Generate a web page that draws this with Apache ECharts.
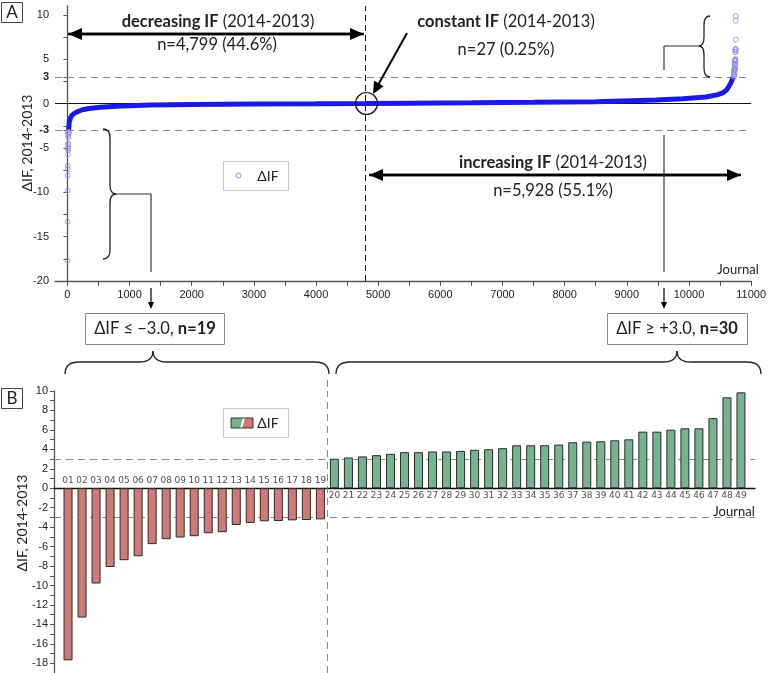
<!DOCTYPE html>
<html><head><meta charset="utf-8">
<script src="https://cdn.jsdelivr.net/npm/echarts@6/dist/echarts.min.js"></script>
<style>html,body{margin:0;padding:0;background:#fff}#c{width:769px;height:673px}</style>
</head><body><div id="c"></div>
<script>
// ---------------- DATA ----------------
const totalJournals = 10754;
const nDecreasing = 4799;
// sorted ΔIF curve (rank -> value) (journals with |ΔIF| < 3)
const curveRank  = [20, 30, 50, 75, 110, 155, 210, 260, 350, 527, 794, 1326, 2000, 3000, 4000, 4799, 4826, 5500, 6500, 7500, 8500, 9473, 9900, 10272, 10450, 10543, 10600, 10639, 10680, 10703, 10724];
const curveValue = [-3.0, -2.05, -1.6, -1.3, -1.1, -0.93, -0.78, -0.66, -0.55, -0.42, -0.3, -0.17, -0.11, -0.06, -0.03, 0, 0, 0.04, 0.08, 0.14, 0.22, 0.4, 0.55, 0.75, 0.98, 1.2, 1.5, 1.88, 2.4, 2.86, 3.0];
// journals with ΔIF <= -3 (01-19) and >= +3 (20-49)
const journalLabels = ['01','02','03','04','05','06','07','08','09','10','11','12','13','14','15','16','17','18','19','20','21','22','23','24','25','26','27','28','29','30','31','32','33','34','35','36','37','38','39','40','41','42','43','44','45','46','47','48','49'];
const negValues = [-17.7, -13.3, -9.8, -8.1, -7.4, -7.0, -5.75, -5.24, -5.07, -4.93, -4.63, -4.52, -3.78, -3.57, -3.40, -3.37, -3.30, -3.27, -3.20];
const posValues = [3.03, 3.16, 3.27, 3.40, 3.54, 3.71, 3.71, 3.78, 3.78, 3.84, 3.95, 4.01, 4.12, 4.42, 4.42, 4.42, 4.49, 4.73, 4.80, 4.83, 4.93, 5.03, 5.82, 5.82, 6.02, 6.16, 6.16, 7.21, 9.35, 9.86];
// tick labels
const yTicksA = [-20, -15, -10, -5, -3, 0, 3, 5, 10];
const yMinorA = [-20, -17.5, -15, -12.5, -10, -7.5, -5, -3, -2.5, 0, 2.5, 3, 5, 7.5, 10];
const xTicksA = [0, 1000, 2000, 3000, 4000, 5000, 6000, 7000, 8000, 9000, 10000, 11000];
const xMinorA = [0, 500, 1000, 1500, 2000, 2500, 3000, 3500, 4000, 4500, 5000, 5500, 6000, 6500, 7000, 7500, 8000, 8500, 9000, 9500, 10000, 10500, 11000];
const yTicksB = [-18, -16, -14, -12, -10, -8, -6, -4, -2, 0, 2, 4, 6, 8, 10];
const yMinorB = [-19, -18, -17, -16, -15, -14, -13, -12, -11, -10, -9, -8, -7, -6, -5, -4, -3, -2, -1, 0, 1, 2, 3, 4, 5, 6, 7, 8, 9, 10];

// ---------------- STYLE ----------------
const tickFont = "'Liberation Sans Narrow','Liberation Sans',Arial,sans-serif";
const textFont = "Lato,'Open Sans',sans-serif";
const RED = '#cd7b78', GREEN = '#79b28f';

const curveData = curveRank.map((r, i) => [r, curveValue[i]]);
const tailData = negValues.map((v, i) => [i + 1, v])
  .concat(posValues.map((v, i) => [totalJournals - posValues.length + i + 1, v]));
const barData = negValues.map((v, i) => ({value: [i + 1, v], itemStyle: {color: RED}}))
  .concat(posValues.map((v, i) => ({value: [negValues.length + i + 1, v], itemStyle: {color: GREEN}})));
const negLabelPts = negValues.map((v, i) => ({value: [i + 1, 0], name: journalLabels[i]}));
const posLabelPts = posValues.map((v, i) => ({value: [negValues.length + i + 1, 0], name: journalLabels[negValues.length + i]}));

const dashGray = {color: '#8a8a8a', type: [7, 5], width: 1};

function arrow(x1, y1, x2, y2, lw, hl, hw) {
  const dx = x2 - x1, dy = y2 - y1, L = Math.sqrt(dx * dx + dy * dy);
  const ux = dx / L, uy = dy / L, px = -uy, py = ux;
  const bx = x2 - ux * hl, by = y2 - uy * hl;
  return [
    {type: 'line', shape: {x1: x1, y1: y1, x2: bx + ux, y2: by + uy}, style: {stroke: '#000', lineWidth: lw}, z: 100},
    {type: 'polygon', shape: {points: [[x2, y2], [bx + px * hw, by + py * hw], [bx - px * hw, by - py * hw]]}, style: {fill: '#000'}, z: 100}
  ];
}
function vline(x, y1, y2, c, w) { return {type: 'line', shape: {x1: x, y1: y1, x2: x, y2: y2}, style: {stroke: c || '#333', lineWidth: w || 1.2}, z: 100}; }
function hline(x1, x2, y, c, w) { return {type: 'line', shape: {x1: x1, y1: y, x2: x2, y2: y}, style: {stroke: c || '#333', lineWidth: w || 1.2}, z: 100}; }
// segments: ['L', x1,y1,x2,y2] or ['Q', x1,y1,cx,cy,x2,y2]
function shapePath(segs) {
  return segs.map(s => s[0] === 'L'
    ? {type: 'line', shape: {x1: s[1], y1: s[2], x2: s[3], y2: s[4]}, style: {stroke: '#222', lineWidth: 1.3}, z: 100}
    : {type: 'bezierCurve', shape: {x1: s[1], y1: s[2], cpx1: s[3], cpy1: s[4], x2: s[5], y2: s[6]}, style: {stroke: '#222', fill: null, lineWidth: 1.3}, z: 100});
}
// vertical brace: ends at xe, spine at xs, tip at xt; from y1 to y2, tip at ym
function vbrace(xe, xs, xt, y1, ym, y2) {
  const r = 9;
  return shapePath([
    ['Q', xe, y1, xs, y1, xs, y1 + r], ['L', xs, y1 + r, xs, ym - r], ['Q', xs, ym - r, xs, ym, xt, ym],
    ['Q', xt, ym, xs, ym, xs, ym + r], ['L', xs, ym + r, xs, y2 - r], ['Q', xs, y2 - r, xs, y2, xe, y2]
  ]);
}
// horizontal brace opening downward: from x1 to x2, tip at xm; tip y yt, spine ys, ends ye
function hbrace(x1, xm, x2, yt, ys, ye) {
  const r = 14;
  return shapePath([
    ['Q', x1, ye, x1, ys, x1 + r, ys], ['L', x1 + r, ys, xm - r, ys], ['Q', xm - r, ys, xm, ys, xm, yt],
    ['Q', xm, yt, xm, ys, xm + r, ys], ['L', xm + r, ys, x2 - r, ys], ['Q', x2 - r, ys, x2, ys, x2, ye]
  ]);
}
function label(x, y, txt, size, extra) {
  return Object.assign({type: 'text', x: x, y: y, z: 100, style: {text: txt, fontFamily: textFont, fontSize: size, fill: '#222', align: 'center', verticalAlign: 'middle',
    rich: {b: {fontWeight: 'bold', fontFamily: textFont, fontSize: size, fill: '#222'}, n: {fontFamily: textFont, fontSize: size, fill: '#222'}}}}, extra || {});
}

const F = 16.5;
const graphics = [].concat(
  // panel letters
  [{type: 'rect', shape: {x: 1.5, y: 2.5, width: 21, height: 20}, style: {stroke: '#444', fill: '#fff', lineWidth: 1}, z: 100},
   label(12, 13, 'A', 17),
   {type: 'rect', shape: {x: 1.5, y: 388.5, width: 21, height: 20}, style: {stroke: '#444', fill: '#fff', lineWidth: 1}, z: 100},
   label(12, 399, 'B', 17)],
  // decreasing
  [label(218, 22, '{b|decreasing IF} {n|(2014-2013)}', F), label(217, 45, 'n=4,799 (44.6%)', F)],
  arrow(364, 34, 68, 34, 2.4, 14, 6), arrow(68, 34, 364, 34, 2.4, 14, 6),
  // constant
  [label(506, 22, '{b|constant IF} {n|(2014-2013)}', F), label(506, 50, 'n=27 (0.25%)', F),
   {type: 'circle', shape: {cx: 366.5, cy: 103.5, r: 11}, style: {stroke: '#111', fill: null, lineWidth: 1.2}, z: 100}],
  arrow(407, 33, 373, 94, 2, 12, 5.5),
  // increasing
  [label(553, 163, '{b|increasing IF} {n|(2014-2013)}', F), label(553, 191, 'n=5,928 (55.1%)', F)],
  arrow(369, 175, 741, 175, 2.4, 14, 6), arrow(741, 175, 369, 175, 2.4, 14, 6),
  // legend A
  [{type: 'rect', shape: {x: 223.5, y: 161.5, width: 65, height: 29}, style: {stroke: '#c8c8c8', fill: '#fff', lineWidth: 1}, z: 99},
   {type: 'circle', shape: {cx: 238.5, cy: 175.5, r: 2.5}, style: {stroke: '#8c8ce6', fill: null, lineWidth: 1}, z: 100},
   label(268, 176, 'ΔIF', 14)],
  // left brace A
  vbrace(103, 110, 116, 129, 194, 259), [hline(116, 151, 194), vline(151, 194, 272)],
  // right brace A
  vbrace(710, 704, 699, 16, 46, 77), [hline(664, 699, 46), vline(664, 46, 70), vline(664, 135, 272)],
  // small arrows below axis
  arrow(151, 288, 151, 309, 1.2, 7, 3), arrow(664, 288, 664, 309, 1.2, 7, 3),
  // boxes
  [{type: 'rect', shape: {x: 85.5, y: 313.5, width: 139, height: 31}, style: {stroke: '#888', fill: '#fff', lineWidth: 1}, z: 99},
   label(155, 329, '{n|ΔIF ≤ −3.0, }{b|n=19}', F),
   {type: 'rect', shape: {x: 607.5, y: 313.5, width: 140, height: 31}, style: {stroke: '#888', fill: '#fff', lineWidth: 1}, z: 99},
   label(677, 329, '{n|ΔIF ≥ +3.0, }{b|n=30}', F)],
  // horizontal braces
  hbrace(65, 153, 329, 351, 362, 374), hbrace(336, 677, 761, 351, 362, 374),
  // vertical dashed separator above panel B grid
  [{type: 'line', shape: {x1: 327.5, y1: 380, x2: 327.5, y2: 391}, style: {stroke: '#8a8a8a', lineWidth: 1, lineDash: [7, 5]}, z: 50}],
  // legend B
  [{type: 'rect', shape: {x: 223.5, y: 408.5, width: 65, height: 29}, style: {stroke: '#c8c8c8', fill: '#fff', lineWidth: 1}, z: 99},
   {type: 'polygon', shape: {points: [[231, 418], [243, 418], [240, 428], [231, 428]]}, style: {fill: GREEN}, z: 100},
   {type: 'polygon', shape: {points: [[245, 418], [253, 418], [253, 428], [242, 428]]}, style: {fill: RED}, z: 100},
   {type: 'rect', shape: {x: 231, y: 418, width: 22, height: 10}, style: {stroke: '#333', fill: null, lineWidth: 1}, z: 100},
   label(268, 423, 'ΔIF', 14)],
  // axis titles
  [label(27, 143, 'ΔIF, 2014-2013', 14, {rotation: Math.PI / 2}), label(22, 523, 'ΔIF, 2014-2013', 14, {rotation: Math.PI / 2}),
   label(738, 270, 'Journal', 13), label(734, 512, 'Journal', 13)]
);

const axisLbl = {fontFamily: tickFont, fontSize: 11, color: '#222'};

const option = {
  animation: false,
  backgroundColor: '#fff',
  grid: [
    {left: 55, right: 13, top: 6, bottom: 392},
    {left: 54, right: 14, top: 391, height: 284.2}
  ],
  xAxis: [
    {gridIndex: 0, type: 'value', min: -200, max: 11000, splitLine: {show: false},
     axisLine: {onZero: false, lineStyle: {color: '#555', width: 1.3}},
     axisTick: {customValues: xMinorA, length: 5, lineStyle: {color: '#555'}},
     axisLabel: Object.assign({customValues: xTicksA, margin: 8, formatter: v => String(v)}, axisLbl)},
    {gridIndex: 1, type: 'value', min: 0, max: 50, splitLine: {show: false},
     axisLine: {onZero: true, lineStyle: {color: '#111', width: 1.3}},
     axisTick: {show: false}, axisLabel: {show: false}}
  ],
  yAxis: [
    {gridIndex: 0, type: 'value', min: -20, max: 11, splitLine: {show: false},
     axisLine: {show: true, lineStyle: {color: '#555', width: 1.3}},
     axisTick: {show: true, customValues: yMinorA, length: 4, lineStyle: {color: '#555'}},
     axisLabel: Object.assign({customValues: yTicksA, margin: 6,
       formatter: v => (v === 3 || v === -3) ? '{b|' + v + '}' : String(v),
       rich: {b: {fontWeight: 'bold', fontFamily: tickFont, fontSize: 11, color: '#222'}}}, axisLbl)},
    {gridIndex: 1, type: 'value', min: -19, max: 10, splitLine: {show: false},
     axisLine: {show: true, lineStyle: {color: '#555', width: 1.3}},
     axisTick: {show: true, customValues: yMinorB, length: 4, lineStyle: {color: '#555'}},
     axisLabel: Object.assign({customValues: yTicksB, margin: 6}, axisLbl)}
  ],
  series: [
    {type: 'line', name: 'ΔIF', xAxisIndex: 0, yAxisIndex: 0, data: curveData, showSymbol: false, smooth: false,
     lineStyle: {color: '#1a1ae4', width: 5}, z: 5,
     markLine: {silent: true, symbol: 'none', label: {show: false}, z: 1,
       data: [
         {yAxis: 0, lineStyle: {color: '#111', type: 'solid', width: 1}},
         {yAxis: 3, lineStyle: dashGray},
         {yAxis: -3, lineStyle: dashGray},
         {xAxis: nDecreasing, lineStyle: {color: '#111', type: [6, 4], width: 1}}
       ]}},
    {type: 'scatter', name: 'ΔIF tails', xAxisIndex: 0, yAxisIndex: 0, data: tailData, symbol: 'circle', symbolSize: 5,
     itemStyle: {color: 'rgba(0,0,0,0)', borderColor: '#8f8fe6', borderWidth: 1}, z: 6},
    {type: 'bar', name: 'ΔIF bars', xAxisIndex: 1, yAxisIndex: 1, data: barData, barWidth: 9,
     itemStyle: {borderColor: '#2b2b2b', borderWidth: 1},
     markLine: {silent: true, symbol: 'none', label: {show: false}, z: 1,
       data: [
         {yAxis: 3, lineStyle: dashGray},
         {yAxis: -3, lineStyle: dashGray},
         {xAxis: negValues.length + 0.5, lineStyle: {color: '#8a8a8a', type: [7, 5], width: 1}}
       ]}},
    {type: 'scatter', xAxisIndex: 1, yAxisIndex: 1, data: negLabelPts, symbolSize: 0, silent: true,
     label: {show: true, position: 'top', distance: 3, formatter: p => p.name, fontFamily: "'DejaVu Sans',Verdana,sans-serif", fontSize: 9, color: '#222'}},
    {type: 'scatter', xAxisIndex: 1, yAxisIndex: 1, data: posLabelPts, symbolSize: 0, silent: true,
     label: {show: true, position: 'bottom', distance: 3, formatter: p => p.name, fontFamily: "'DejaVu Sans',Verdana,sans-serif", fontSize: 9, color: '#222'}}
  ],
  graphic: graphics
};
const chart = echarts.init(document.getElementById('c'), null, {renderer: 'canvas'});
chart.setOption(option);
</script>
</body></html>
